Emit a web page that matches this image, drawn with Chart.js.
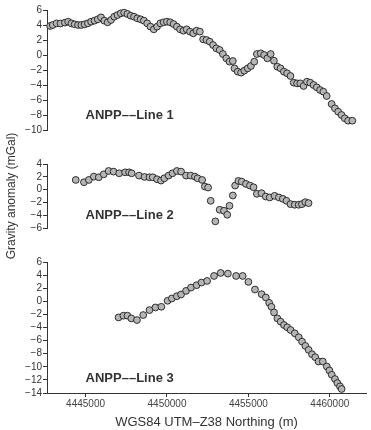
<!DOCTYPE html>
<html>
<head>
<meta charset="utf-8">
<script src="https://cdn.jsdelivr.net/npm/chart.js@4.4.1/dist/chart.umd.min.js"></script>
<style>
  body { margin: 0; background: #fff; }
  #wrap { position: relative; width: 371px; height: 430px; background: #fff; }
  canvas { position: absolute; left: 0; }
</style>
</head>
<body>
<div id="wrap">
  <canvas id="line1" width="371" height="140" style="top:0"></canvas>
  <canvas id="line2" width="371" height="145" style="top:125px"></canvas>
  <canvas id="line3" width="371" height="180" style="top:250px"></canvas>
</div>
<script>
// --- Data (northing in m, anomaly in mGal) ---
const line1X = [4442820, 4442980, 4443220, 4443460, 4443730, 4443930, 4444130, 4444330, 4444535, 4444740,
  4444940, 4445140, 4445340, 4445550, 4445750, 4445950, 4446150, 4446355, 4446560, 4446760,
  4446960, 4447165, 4447370, 4447570, 4447770, 4447975, 4448175, 4448380, 4448580, 4448785,
  4448985, 4449190, 4449390, 4449590, 4449795, 4449995, 4450200, 4450400, 4450605, 4450805,
  4451010, 4451210, 4451415, 4451615, 4451815, 4452020, 4452220, 4452425, 4452625, 4452830,
  4453030, 4453235, 4453435, 4453640, 4453840, 4454045, 4454145, 4454345, 4454550, 4454750,
  4454955, 4455155, 4455360, 4455520, 4455760, 4455965, 4456165, 4456370, 4456570, 4456775,
  4456975, 4457180, 4457380, 4457585, 4457785, 4457990, 4458190, 4458390, 4458595, 4458800,
  4459000, 4459200, 4459405, 4459605, 4459810, 4460110, 4460315, 4460515, 4460720, 4460920,
  4461125, 4461385];
const line1Y = [3.87, 4.0, 4.22, 4.2, 4.31, 4.44, 4.22, 4.09, 4.0, 4.0,
  4.09, 4.22, 4.44, 4.58, 4.76, 5.02, 4.58, 4.36, 4.67, 5.11,
  5.33, 5.56, 5.64, 5.47, 5.24, 5.11, 4.89, 4.76, 4.58, 4.22,
  3.78, 3.42, 3.78, 4.22, 4.36, 4.44, 4.36, 4.13, 3.78, 3.42,
  3.24, 3.42, 3.11, 2.89, 3.24, 3.11, 2.09, 2.0, 1.78, 1.33,
  0.89, 0.67, 0.13, -0.44, -0.89, -0.8, -1.78, -2.22, -2.36, -2.09,
  -1.78, -1.47, -0.89, 0.13, 0.22, 0.0, -0.44, 0.13, -0.76, -1.56,
  -1.78, -2.22, -2.44, -2.8, -3.69, -3.78, -3.78, -4.13, -3.56, -3.69,
  -4.0, -4.31, -4.67, -4.89, -5.47, -6.53, -7.11, -7.56, -8.0, -8.44,
  -8.76, -8.76];

const line2X = [4444395, 4444900, 4445200, 4445505, 4445810, 4446115, 4446415, 4446720, 4447065, 4447430,
  4447670, 4447830, 4448280, 4448620, 4448925, 4449125, 4449390, 4449635, 4449835, 4450100,
  4450340, 4450605, 4450865, 4451170, 4451455, 4451715, 4451880, 4452160, 4452325, 4452525,
  4452685, 4452970, 4453235, 4453500, 4453700, 4453840, 4454045, 4454185, 4454385, 4454590,
  4454850, 4455095, 4455315, 4455520, 4455805, 4456065, 4456310, 4456610, 4456875, 4457115,
  4457340, 4457585, 4457845, 4458090, 4458290, 4458495, 4458695];
const line2Y = [1.51, 1.15, 1.51, 2.03, 1.93, 2.39, 2.91, 2.81, 2.55, 2.7,
  2.7, 2.55, 2.19, 1.98, 1.93, 1.93, 1.62, 1.41, 1.77, 2.19,
  2.55, 2.91, 2.81, 2.19, 2.19, 2.03, 1.77, 1.51, 0.48, 0.32,
  -1.75, -4.96, -3.15, -3.31, -3.93, -2.53, -0.92, 0.63, 1.36, 1.25,
  0.89, 0.63, 0.37, -0.66, -0.56, -1.08, -1.23, -0.97, -1.23, -1.44,
  -1.75, -2.27, -2.37, -2.37, -2.27, -1.96, -2.11];

const line3X = [4447025, 4447325, 4447570, 4447810, 4448155, 4448540, 4448925, 4449290, 4449655, 4450035,
  4450300, 4450605, 4450865, 4451170, 4451475, 4451820, 4452120, 4452465, 4452890, 4453295,
  4453740, 4454245, 4454650, 4455000, 4455405, 4455810, 4456070, 4456275, 4456415, 4456575,
  4456780, 4456980, 4457185, 4457385, 4457590, 4457850, 4458095, 4458295, 4458500, 4458700,
  4458905, 4459105, 4459310, 4459570, 4459815, 4459975, 4460120, 4460320, 4460465, 4460625,
  4460725];
const line3Y = [-2.46, -2.2, -2.2, -2.61, -2.86, -2.1, -1.34, -0.94, -0.84, 0.08,
  0.43, 0.78, 1.04, 1.59, 2.1, 2.46, 2.86, 3.11, 3.87, 4.33,
  4.23, 3.87, 3.87, 2.96, 1.8, 1.09, 0.58, -0.23, -0.84, -1.7,
  -2.61, -3.11, -3.62, -3.97, -4.38, -4.89, -5.49, -6.15, -6.81, -7.42,
  -8.08, -8.53, -9.19, -9.19, -9.95, -10.56, -11.22, -11.87, -12.48, -12.99,
  -13.39];

const xTicks = [4445000, 4450000, 4455000, 4460000];
const xMin = 4442630;
const xMax = 4462230;

const FONT = '"Liberation Sans", Arial, Helvetica, sans-serif';
const INK = '#333';

// draws the "ANPP--Line n" caption inside each panel
const panelLabel = {
    id: 'panelLabel',
    afterDraw(chart) {
        const opts = chart.options.plugins.panelLabel;
        if (!opts) return;
        const { ctx, scales: { x, y } } = chart;
        ctx.save();
        ctx.font = 'bold 13px ' + FONT;
        ctx.fillStyle = INK;
        ctx.textAlign = 'left';
        ctx.textBaseline = 'middle';
        ctx.fillText(opts.text, x.getPixelForValue(opts.x), y.getPixelForValue(opts.y));
        ctx.restore();
    }
};

function minusTick(v) {
    return v < 0 ? '\u2212' + Math.abs(v) : String(v);
}

function makePanel(id, xs, ys, yMin, yMax, pad, label, labelY, showX, yTitle) {
    const points = xs.map((v, i) => ({ x: v, y: ys[i] }));
    return new Chart(document.getElementById(id), {
        type: 'scatter',
        data: {
            datasets: [{
                data: points,
                pointRadius: 3.4,
                pointBackgroundColor: '#b5b5b5',
                pointBorderColor: '#1e1e1e',
                pointBorderWidth: 0.9,
                clip: false
            }]
        },
        options: {
            responsive: false,
            animation: false,
            layout: { padding: { top: pad[0], bottom: pad[1], left: 0, right: 1 } },
            plugins: {
                legend: { display: false },
                tooltip: { enabled: false },
                panelLabel: { text: label, x: xTicks[0], y: labelY }
            },
            scales: {
                x: {
                    type: 'linear',
                    display: showX,
                    min: xMin,
                    max: xMax,
                    afterBuildTicks: s => { s.ticks = xTicks.map(v => ({ value: v })); },
                    afterFit: s => { s.height = showX ? 37 : 0; },
                    ticks: {
                        color: '#444',
                        padding: 1,
                        maxRotation: 0,
                        autoSkip: false,
                        font: { family: FONT, size: 10 },
                        callback: v => String(v)
                    },
                    grid: { display: true, drawOnChartArea: false, drawTicks: true, tickLength: 4, color: INK },
                    border: { display: true, color: INK, width: 1 },
                    title: {
                        display: true,
                        text: 'WGS84 UTM\u2013Z38 Northing (m)',
                        color: INK,
                        padding: { top: 0, bottom: 0 },
                        font: { family: FONT, size: 13 }
                    }
                },
                y: {
                    min: yMin,
                    max: yMax,
                    afterFit: s => { s.width = 47; },
                    ticks: {
                        stepSize: 2,
                        autoSkip: false,
                        color: INK,
                        padding: 1,
                        font: { family: FONT, size: 10 },
                        callback: minusTick
                    },
                    grid: { display: true, drawOnChartArea: false, drawTicks: true, tickLength: 4, color: INK },
                    border: { display: true, color: INK, width: 1 },
                    title: {
                        display: !!yTitle,
                        text: yTitle || '',
                        color: INK,
                        font: { family: FONT, size: 12 }
                    }
                }
            }
        },
        plugins: [panelLabel]
    });
}

makePanel('line1', line1X, line1Y, -10, 6, [10, 10], 'ANPP\u2013\u2013Line 1', -8, false, null);
makePanel('line2', line2X, line2Y, -6, 4, [39, 42], 'ANPP\u2013\u2013Line 2', -4, false, 'Gravity anomaly (mGal)');
makePanel('line3', line3X, line3Y, -14, 6, [12, 0], 'ANPP\u2013\u2013Line 3', -11.8, true, null);
</script>
</body>
</html>
